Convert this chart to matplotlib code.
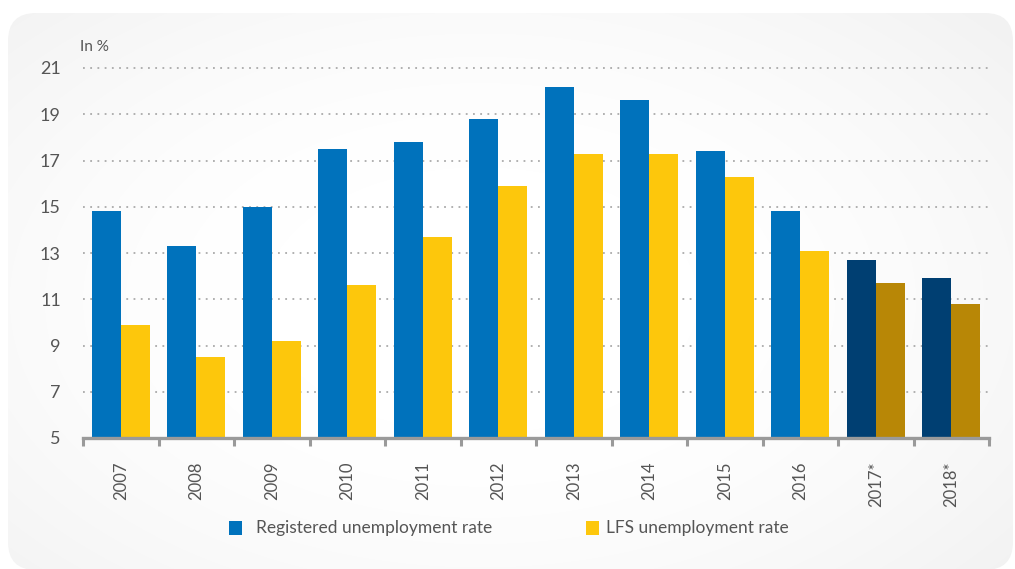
import numpy as np
import matplotlib
matplotlib.use("Agg")
import matplotlib.pyplot as plt
from matplotlib.patches import FancyBboxPatch, Rectangle

plt.rcParams['font.family'] = ['Lato', 'DejaVu Sans']

years = ["2007", "2008", "2009", "2010", "2011", "2012",
         "2013", "2014", "2015", "2016", "2017*", "2018*"]
registered = [14.8, 13.3, 15.0, 17.5, 17.8, 18.8, 20.2, 19.6, 17.4, 14.8, 12.7, 11.9]
lfs = [9.9, 8.5, 9.2, 11.6, 13.7, 15.9, 17.3, 17.3, 16.3, 13.1, 11.7, 10.8]
forecast = [False] * 10 + [True, True]

blue, blue_dark = "#0072BC", "#003F72"
gold, gold_dark = "#FDC70C", "#B88706"
text_col = "#555555"

W, H = 1015, 569
fig = plt.figure(figsize=(W / 100, H / 100), dpi=100)
fig.patch.set_facecolor("white")

# background panel with soft radial shading
bg = fig.add_axes([0, 0, 1, 1], zorder=-5)
bg.set_xlim(0, W)
bg.set_ylim(H, 0)
bg.axis("off")
yy, xx = np.mgrid[0:H, 0:W]
d = np.sqrt(((xx - 480) / 620) ** 2 + ((yy - 300) / 380) ** 2)
shade = np.clip(1.0 - 0.075 * np.clip(d - 0.35, 0, None) ** 1.5, 0.93, 1.0)
img = bg.imshow(np.dstack([shade] * 3), extent=(0, W, H, 0), interpolation="bilinear")
panel = FancyBboxPatch((8, 13), W - 10, H - 12,
                       boxstyle="round,pad=0,rounding_size=28",
                       transform=bg.transData, facecolor="none", edgecolor="none")
bg.add_patch(panel)
img.set_clip_path(panel)

# main chart
ax = fig.add_axes([83 / W, 1 - 438 / H, (989 - 83) / W, (438 - 68) / H])
ax.set_facecolor("none")
x = np.arange(len(years))
w = 0.385
c_reg = [blue_dark if f else blue for f in forecast]
c_lfs = [gold_dark if f else gold for f in forecast]
ax.bar(x - w / 2, [v - 5 for v in registered], bottom=5, width=w, color=c_reg, zorder=3)
ax.bar(x + w / 2, [v - 5 for v in lfs], bottom=5, width=w, color=c_lfs, zorder=3)

ax.set_xlim(-0.5, len(years) - 0.5)
ax.set_ylim(5, 21)
ax.set_yticks(np.arange(5, 22, 2))
ax.tick_params(axis="y", length=0, pad=16, labelsize=13, labelcolor=text_col)
for yv in np.arange(7, 22, 2):
    ax.axhline(yv, color="#aaaaaa", linewidth=1.3, linestyle=(0, (1, 3)), zorder=1,
               clip_on=False)

ax.set_xticks(x)
ax.set_xticklabels(years, rotation=90, fontsize=12, color=text_col)
ax.tick_params(axis="x", length=0, pad=17)
ax.set_xticks(np.arange(-0.5, len(years), 1), minor=True)
ax.tick_params(axis="x", which="minor", length=6, width=2.2, color="#9a9a9a", direction="out")

for s in ["left", "right", "top"]:
    ax.spines[s].set_visible(False)
ax.spines["bottom"].set_color("#9a9a9a")
ax.spines["bottom"].set_linewidth(2.4)
ax.spines["bottom"].set_zorder(4)

fig.text(80 / W, 1 - 47 / H, "In %", fontsize=11, color=text_col, va="center", ha="left")

# legend
for sx, tx, col, lab in [(229, 256, blue, "Registered unemployment rate"),
                         (586, 606, gold, "LFS unemployment rate")]:
    fig.patches.append(Rectangle((sx / W, 1 - 535 / H), 13 / W, 14 / H,
                                 transform=fig.transFigure, facecolor=col, edgecolor="none"))
    fig.text(tx / W, 1 - 528 / H, lab, fontsize=12.5, color=text_col, va="center", ha="left")

fig.savefig("out.png", dpi=100)
